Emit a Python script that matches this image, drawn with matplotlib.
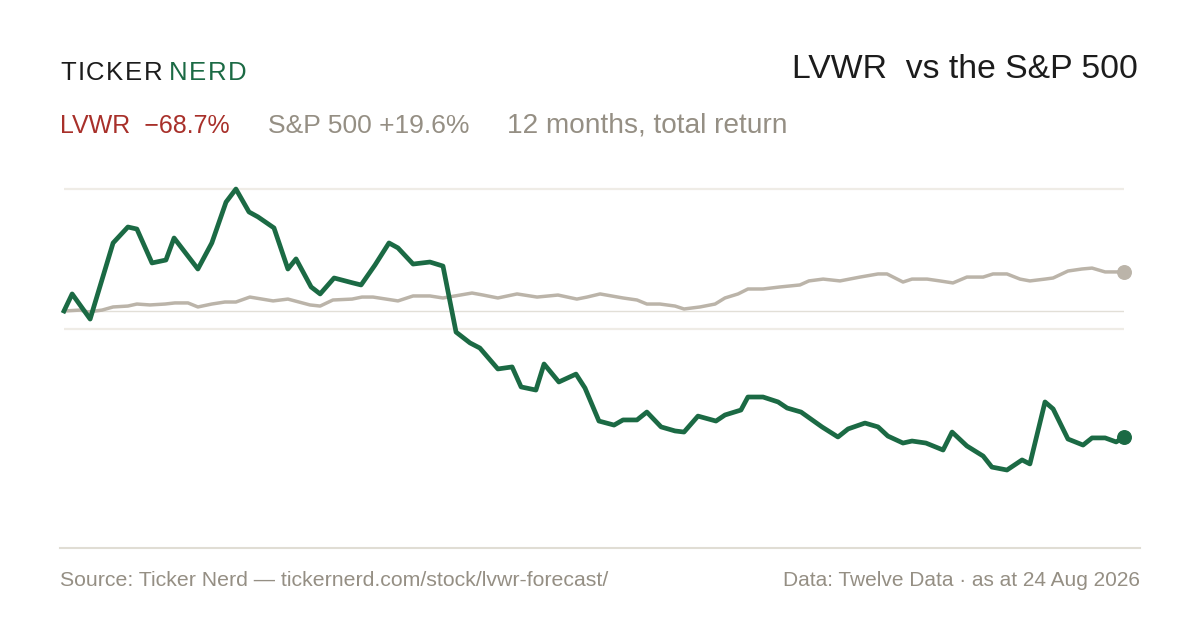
import matplotlib
matplotlib.use('Agg')
import matplotlib.pyplot as plt

plt.rcParams['font.family'] = ['Liberation Sans', 'DejaVu Sans']

# days since start vs total return (%)
lvwr_day = [0, 2.8, 9.0, 16.9, 22.0, 25.1, 30.3, 35.1, 37.9, 46.1, 50.9, 55.8, 59.2,
            63.7, 66.8, 72.3, 77.1, 79.9, 85.1, 88.2, 93.0, 99.5, 102.3, 107.1, 111.9,
            115.0, 120.2, 126.0, 130.5, 135.0, 139.8, 143.2, 149.4, 154.3, 157.4, 162.5,
            165.3, 170.4, 176.3, 179.4, 184.2, 189.4, 192.5, 197.3, 200.7, 205.6, 210.4,
            213.5, 218.3, 224.5, 227.6, 233.1, 235.5, 240.7, 245.9, 249.0, 253.8, 261.0,
            266.5, 270.0, 275.8, 280.3, 283.7, 288.9, 292.0, 296.8, 302.7, 305.8, 310.9,
            316.5, 319.5, 324.7, 329.9, 332.6, 337.8, 340.6, 345.7, 350.9, 354.0, 358.5,
            362.3, 365]
lvwr_ret = [0, 9.3, -4.4, 37.1, 45.8, 44.7, 26.2, 27.8, 39.8, 22.9, 37.1, 59.4, 66.5,
            54.0, 51.3, 45.3, 22.9, 28.4, 13.1, 9.3, 18.0, 15.3, 14.2, 25.1, 37.1,
            34.4, 25.6, 26.7, 24.5, -11.5, -17.4, -20.2, -31.6, -30.5, -41.4, -43.1,
            -28.9, -38.7, -34.4, -42.0, -60.0, -62.2, -59.4, -59.4, -55.1, -63.2, -65.4,
            -66.0, -57.3, -60.0, -56.7, -54.0, -46.9, -46.9, -49.6, -52.9, -55.1, -63.2,
            -68.7, -64.3, -61.1, -63.2, -68.2, -72.0, -70.9, -72.0, -75.8, -66.0, -73.6,
            -79.1, -85.1, -86.7, -81.2, -83.4, -49.6, -53.4, -69.8, -73.1, -69.2, -69.2,
            -71.4, -68.7]

spx_day = [0, 5.5, 8.3, 13.1, 16.9, 22.0, 25.1, 29.6, 34.8, 38.2, 42.7, 46.1, 50.9,
           55.4, 59.2, 64.0, 72.0, 77.1, 84.7, 88.2, 92.6, 99.2, 102.6, 106.4, 115.0,
           120.2, 126.0, 130.5, 134.6, 140.5, 144.3, 149.4, 156.0, 162.9, 170.1, 176.6,
           180.1, 184.6, 192.5, 197.3, 200.7, 205.2, 210.4, 213.5, 219.0, 224.2, 227.6,
           232.1, 235.5, 240.7, 246.5, 253.4, 256.5, 261.4, 267.2, 274.1, 280.3, 283.4,
           288.9, 292.0, 297.2, 301.6, 306.1, 310.9, 316.5, 319.9, 324.7, 329.2, 332.6,
           337.8, 340.6, 345.7, 350.5, 354.0, 358.5, 362.3, 365]
spx_ret = [0, 0.5, -0.5, 0.5, 2.2, 2.7, 3.8, 3.3, 3.8, 4.4, 4.4, 2.2, 3.8,
           4.9, 4.9, 7.6, 5.5, 6.5, 3.3, 2.7, 6.0, 6.5, 7.6, 7.6, 5.5,
           8.2, 8.2, 7.1, 8.2, 9.8, 8.7, 7.1, 9.3, 7.6, 8.7, 6.5,
           7.6, 9.3, 7.1, 6.0, 3.8, 3.8, 2.7, 1.1, 2.2, 3.8, 7.1,
           9.3, 12.0, 12.0, 13.1, 14.2, 16.4, 17.4, 16.4, 18.5, 20.2, 20.2,
           15.8, 17.4, 17.4, 16.4, 15.3, 18.5, 18.5, 20.2, 20.2, 17.4, 16.4,
           17.4, 18.0, 21.8, 22.9, 23.4, 21.3, 21.3, 21.3]

grid_vals = [66.5, -9.8]
base_val = 0

GREEN = '#1b6a44'
GREY = '#bbb4a9'
RED = '#a8302a'
MUTED = '#958f84'
INK = '#1c1c1c'

W, H = 1200, 630
fig = plt.figure(figsize=(12, 6.3), dpi=100)
fig.patch.set_facecolor('white')

ax = fig.add_axes([64 / W, 1 - 520 / H, 1060 / W, 340 / H])
ax.set_xlim(0, 365)
ax.set_ylim(-113.96, 71.43)
ax.axis('off')

for g in grid_vals:
    ax.axhline(g, color='#efece6', lw=1.6, zorder=1)
ax.axhline(base_val, color='#e2dfd7', lw=1.0, zorder=1)

ax.plot(spx_day, spx_ret, color=GREY, lw=2.5, solid_joinstyle='round', zorder=2, clip_on=False)
ax.plot(lvwr_day, lvwr_ret, color=GREEN, lw=3.4, solid_joinstyle='round', zorder=3, clip_on=False)
ax.scatter([spx_day[-1]], [spx_ret[-1]], s=95, color=GREY, zorder=4, clip_on=False)
ax.scatter([lvwr_day[-1]], [lvwr_ret[-1]], s=95, color=GREEN, zorder=5, clip_on=False)

# footer rule
fig.add_artist(plt.Line2D([60 / W, 1140 / W], [1 - 548 / H] * 2, color='#e0ddd4', lw=1.5))

fig.canvas.draw()
renderer = fig.canvas.get_renderer()


def put(x, y, s, width=None, size=16, **kw):
    # place text in pixel coords; optionally scale it to a target width
    t = fig.text(x / W, 1 - y / H, s, va='baseline', fontsize=size, **kw)
    if width:
        w = t.get_window_extent(renderer).width
        t.set_fontsize(size * width / w)
    return t.get_window_extent(renderer).x1


def spaced(x, y, s, size, track, color):
    for ch in s:
        x = put(x, y, ch, size=size, color=color) + track
    return x


# logo
x = spaced(60, 80, 'TICKER', 18.5, 1.6, INK)
spaced(x + 5, 80, 'NERD', 18.5, 1.6, GREEN)

# title
put(1138, 78, 'LVWR  vs the S&P 500', width=346, size=23, color=INK, ha='right')

# subtitle
put(60, 133, 'LVWR  \u221268.7%', width=170, size=18, color=RED)
put(268, 133, 'S&P 500 +19.6%', width=202, size=18, color=MUTED)
put(507, 133, '12 months, total return', width=280, size=18, color=MUTED)

# footer
put(60, 586, 'Source: Ticker Nerd \u2014 tickernerd.com/stock/lvwr-forecast/', width=547, size=13, color=MUTED)
put(1140, 586, 'Data: Twelve Data \u00b7 as at 24 Aug 2026', width=355, size=13, color=MUTED, ha='right')

fig.savefig('out.png', dpi=100, facecolor='white')
